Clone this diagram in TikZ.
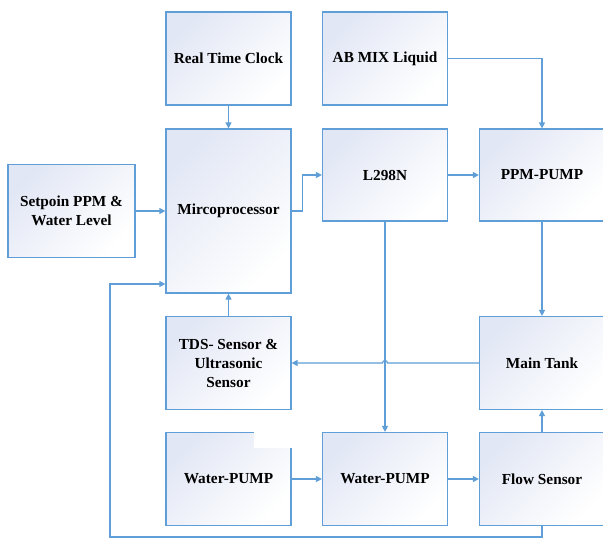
\documentclass[tikz,border=0pt]{standalone}
\usepackage{fontspec}
\setmainfont{Liberation Serif}
\usetikzlibrary{arrows.meta,calc}
\definecolor{edgeblue}{RGB}{95,158,214}
\definecolor{boxfill}{RGB}{226,231,245}
\begin{document}
\begin{tikzpicture}[x=1pt,y=-1pt,
  blk/.style={draw=edgeblue, line width=1.2pt, top color=boxfill, bottom color=white, shading angle=45,
    minimum width=125pt, minimum height=93pt, inner sep=0pt, align=center,
    font=\fontsize{15.3}{19}\selectfont\bfseries, text=black},
  conn/.style={draw=edgeblue, line width=1.2pt},
  arr/.style={conn, -{Triangle[length=6pt,width=6pt]}}]
\useasboundingbox[fill=white] (0,0) rectangle (603,538);
% nodes
\node[blk] (rtc) at (228.5,58.5) {Real Time Clock};
\node[blk] (ab) at (385,58.5) {AB MIX Liquid};
\node[blk, minimum height=164pt] (mcu) at (228.5,211) {Mircoprocessor};
\node[blk, minimum width=127pt] (set) at (71.5,211) {Setpoin PPM \&\\Water Level};
\node[blk, minimum height=92pt] (l298) at (385,175) {L298N};
\node[blk, minimum height=92pt] (ppm) at (542,175) {PPM-PUMP};
\node[blk] (tds) at (228.5,363) {TDS- Sensor \&\\Ultrasonic\\Sensor};
\node[blk] (tank) at (542,363) {Main Tank};
\node[blk] (wp1) at (228.5,479) {Water-PUMP};
\node[blk] (wp2) at (385,479) {Water-PUMP};
\node[blk] (flow) at (542,479) {Flow Sensor};
% white patch on the corner of the left Water-PUMP box
\fill[white] (253.5,430) rectangle (293,447.5);
% helper coordinates
\coordinate (hop) at (l298.south |- tank.west);
\coordinate (fbc) at (110,537);
\coordinate (fbu) at (110,284);
% connectors
\draw[arr] (rtc.south) -- (mcu.north);
\draw[arr] (ab.east) -| (ppm.north);
\draw[arr] (set.east) -- (set.east -| mcu.west);
\draw[arr] (mcu.east) -- ++(11,0) |- (l298.west);
\draw[arr] (l298.east) -- (ppm.west);
\draw[arr] (l298.south) -- (wp2.north);
\draw[arr] (ppm.south) -- (tank.north);
\draw[arr] (tank.west) -- ($(hop)+(2.5,0)$) arc[start angle=0, end angle=-180, radius=2.5] -- (tds.east);
\draw[arr] (tds.north) -- (mcu.south);
\draw[arr] (wp1.east) -- (wp2.west);
\draw[arr] (wp2.east) -- (flow.west);
\draw[arr] (flow.north) -- (tank.south);
\draw[arr] (flow.south) |- (fbc) -- (fbu) -- (fbu -| mcu.west);
\end{tikzpicture}
\end{document}
